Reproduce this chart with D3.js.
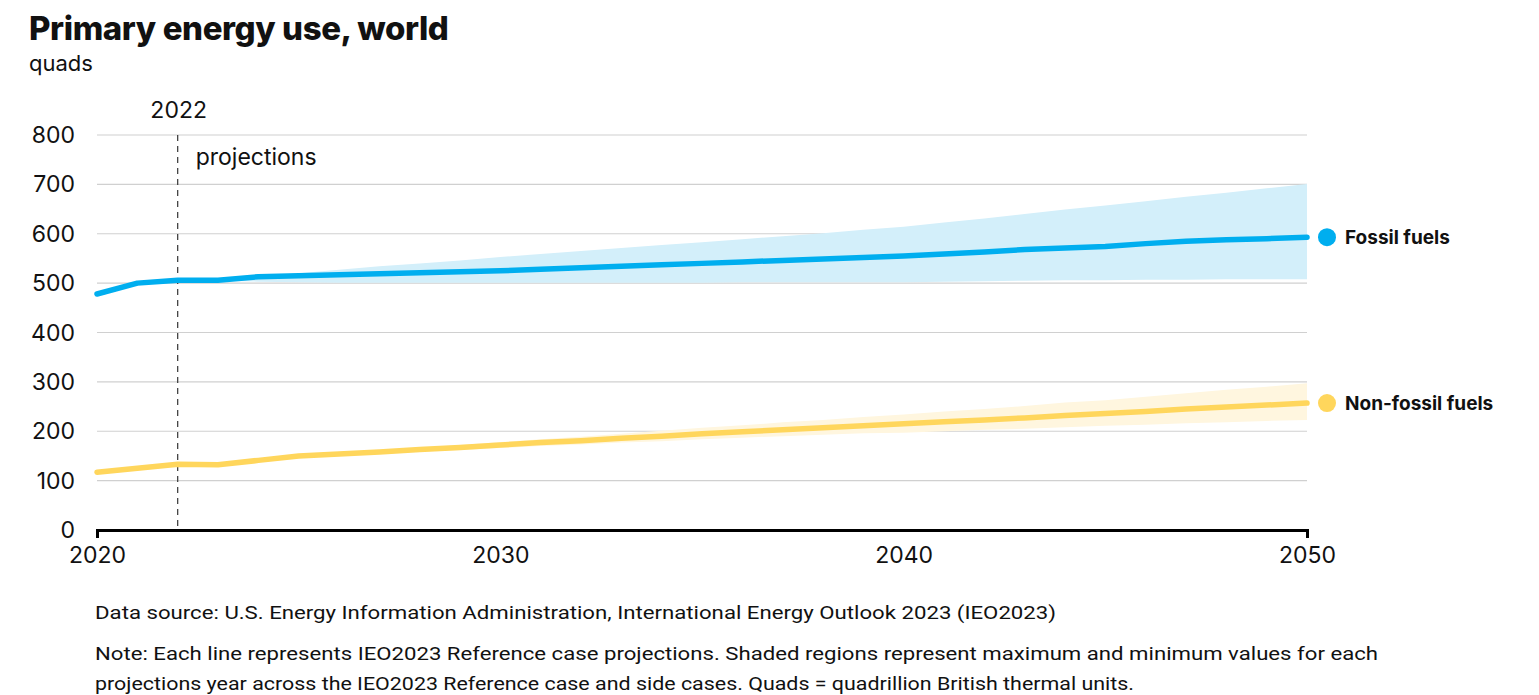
<!DOCTYPE html>
<html>
<head>
<meta charset="utf-8">
<script src="https://cdn.jsdelivr.net/npm/d3@7"></script>
<style>
  html, body { margin: 0; padding: 0; background: #fff; }
  svg { display: block; }
  text { font-family: "Inter", "Noto Sans", sans-serif; fill: #111; }
</style>
</head>
<body>
<svg id="chart" width="1539" height="695"></svg>
<script>
// Annual primary energy use, world (quads)
const years = d3.range(2020, 2051);

const fossilRef = [478, 500, 506, 506, 513, 515, 517, 519, 521, 523, 525,
  528, 531, 534, 537, 540, 543, 546, 549, 552, 555,
  559, 563, 568, 571, 574, 580, 585, 588, 590, 593];

// Range across reference and side cases, 2022 onward
const bandYears = d3.range(2022, 2051);
const fossilMax = [506, 508, 514, 520, 527, 534, 540, 546, 553,
  559, 565, 571, 577, 583, 589, 595, 601, 608, 614,
  623, 631, 640, 649, 657, 666, 675, 683, 692, 701];
const fossilMin = [506, 505, 503, 502, 501, 501, 501, 501, 501,
  501, 501, 501, 501, 501, 502, 502, 502, 502, 502,
  503, 504, 505, 506, 506, 507, 507, 508, 508, 508];

const nonFossilRef = [117, 125, 133, 132, 141, 150, 154, 158, 163, 167, 172,
  177, 181, 186, 190, 195, 199, 203, 207, 211, 215,
  219, 223, 227, 232, 236, 240, 245, 249, 253, 257];
const nonFossilMax = [133, 132, 142, 152, 157, 162, 167, 172, 178,
  184, 189, 195, 201, 207, 212, 218, 223, 229, 234,
  240, 245, 251, 258, 263, 270, 277, 284, 290, 297];
const nonFossilMin = [133, 132, 140, 148, 152, 155, 159, 162, 166,
  170, 173, 177, 180, 184, 187, 190, 193, 196, 197,
  200, 203, 205, 208, 211, 213, 216, 218, 221, 223];

const yTicks = [0, 100, 200, 300, 400, 500, 600, 700, 800];
const xTicks = [2020, 2030, 2040, 2050];
const projectionStart = 2022;

const seriesNames = ["Fossil fuels", "Non-fossil fuels"];
const lineColors = ["#00aeef", "#ffd65c"];
const bandColors = ["#d3effa", "#fff6df"];

const svg = d3.select("#chart");
const x = d3.scaleLinear().domain([2020, 2050]).range([97, 1307]);
const y = d3.scaleLinear().domain([0, 800]).range([530, 135]);

// Title block
svg.append("text").attr("x", 29).attr("y", 40)
  .style("font-size", "33px").style("font-weight", 800)
  .style("letter-spacing", "-0.4px")
  .text("Primary energy use, world");
svg.append("text").attr("x", 29).attr("y", 71)
  .style("font-size", "22px").style("font-weight", 400)
  .text("quads");

// Gridlines
svg.append("g").selectAll("line")
  .data(yTicks.filter(d => d > 0))
  .join("line")
  .attr("x1", x(2020)).attr("x2", x(2050))
  .attr("y1", d => y(d)).attr("y2", d => y(d))
  .attr("stroke", "#d0d0d0").attr("stroke-width", 1.2);

// Y tick labels
svg.append("g").selectAll("text")
  .data(yTicks)
  .join("text")
  .attr("x", 75).attr("y", d => y(d) + 8)
  .attr("text-anchor", "end")
  .style("font-size", "23px")
  .text(d => d);

// Shaded ranges
const bands = [[fossilMin, fossilMax], [nonFossilMin, nonFossilMax]];
const area = d3.area()
  .x(d => x(d.year)).y0(d => y(d.lo)).y1(d => y(d.hi));
bands.forEach(([lo, hi], i) => {
  const pts = bandYears.map((yr, k) => ({ year: yr, lo: lo[k], hi: hi[k] }));
  svg.append("path").datum(pts).attr("d", area).attr("fill", bandColors[i]);
});

// Projection marker
svg.append("line")
  .attr("x1", x(projectionStart)).attr("x2", x(projectionStart))
  .attr("y1", y(800)).attr("y2", y(0))
  .attr("stroke", "#444").attr("stroke-width", 1.3)
  .attr("stroke-dasharray", "6,5");
svg.append("text").attr("x", x(projectionStart) + 1).attr("y", 118)
  .attr("text-anchor", "middle").style("font-size", "23px")
  .text(String(projectionStart));
svg.append("text").attr("x", x(projectionStart) + 18).attr("y", 165)
  .style("font-size", "23px").text("projections");

// Reference lines
const line = d3.line().x((d, k) => x(years[k])).y(d => y(d));
const refs = [fossilRef, nonFossilRef];
refs.forEach((vals, i) => {
  svg.append("path").datum(vals).attr("d", line)
    .attr("fill", "none").attr("stroke", lineColors[i])
    .attr("stroke-width", 5.5).attr("stroke-linecap", "round")
    .attr("stroke-linejoin", "round");
});

// X axis
const xAxis = d3.axisBottom(x).tickValues(xTicks).tickFormat(d3.format("d"))
  .tickSize(0).tickSizeOuter(8).tickPadding(17);
const gx = svg.append("g").attr("transform", `translate(0,${y(0)})`).call(xAxis);
gx.select(".domain").attr("stroke", "#000").attr("stroke-width", 3);
gx.selectAll("text").style("font-size", "23px").attr("fill", "#111")
  .style("font-family", "Inter, 'Noto Sans', sans-serif");

// End labels
refs.forEach((vals, i) => {
  const last = vals[vals.length - 1];
  svg.append("circle").attr("cx", x(2050) + 20).attr("cy", y(last))
    .attr("r", 9).attr("fill", lineColors[i]);
  svg.append("text").attr("x", x(2050) + 38).attr("y", y(last) + 7)
    .style("font-size", "19px").style("font-weight", 700)
    .text(seriesNames[i]);
});

// Footer notes
const notes = [
  { t: "Data source: U.S. Energy Information Administration, International Energy Outlook 2023 (IEO2023)", y: 619, w: 961 },
  { t: "Note: Each line represents IEO2023 Reference case projections. Shaded regions represent maximum and minimum values for each", y: 660, w: 1283 },
  { t: "projections year across the IEO2023 Reference case and side cases. Quads = quadrillion British thermal units.", y: 690, w: 1039 }
];
svg.append("g").selectAll("text").data(notes).join("text")
  .attr("x", 95).attr("y", d => d.y)
  .attr("textLength", d => d.w).attr("lengthAdjust", "spacingAndGlyphs")
  .style("font-family", "Roboto, sans-serif")
  .style("font-size", "19px").attr("fill", "#222")
  .text(d => d.t);
</script>
</body>
</html>
